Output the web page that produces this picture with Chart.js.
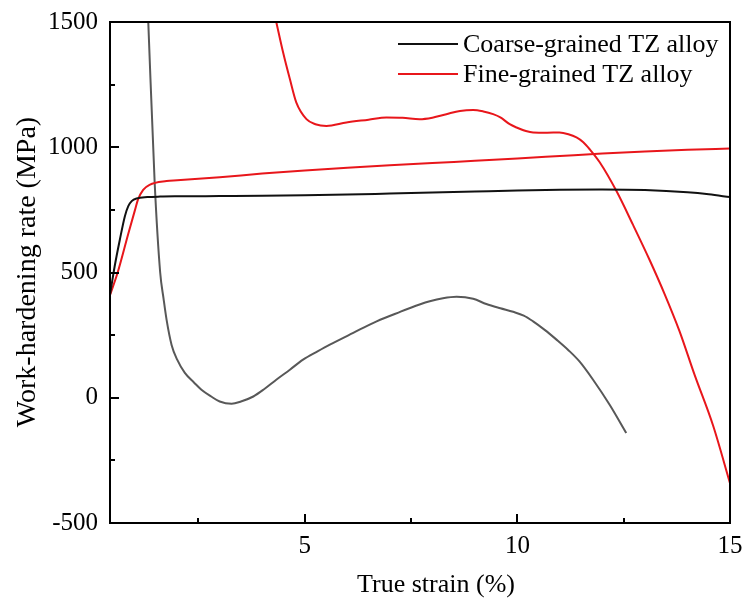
<!DOCTYPE html>
<html>
<head>
<meta charset="utf-8">
<title>Work-hardening rate vs true strain</title>
<script src="https://cdn.jsdelivr.net/npm/chart.js@4/dist/chart.umd.min.js"></script>
<style>
  html, body { margin: 0; padding: 0; background: #fff; }
  canvas { display: block; }
</style>
</head>
<body>
<canvas id="chart" width="747" height="603"></canvas>
<script>
// Coarse-grained TZ alloy: flow curve (black)
const coarseFlowStrain = [0.41, 0.53, 0.65, 0.77, 0.85, 0.93, 1.05, 1.3, 1.6, 2, 3, 4, 5, 6, 7, 8, 9, 10, 11, 12, 13, 14, 14.5, 15];
const coarseFlowValue  = [400, 525, 630, 725, 765, 785, 796, 801, 803, 804, 805, 806, 808, 811, 815, 819, 823, 827, 830, 831, 829, 820, 812, 801];

// Fine-grained TZ alloy: flow curve (red)
const fineFlowStrain = [0.41, 0.6, 0.85, 1.0, 1.08, 1.2, 1.35, 1.75, 2, 3, 4, 5, 6, 7, 8, 9, 10, 11, 12, 13, 14, 15];
const fineFlowValue  = [405, 500, 655, 745, 792, 830, 850, 865, 868, 880, 895, 907, 918, 928, 937, 946, 955, 965, 975, 983, 990, 995];

// Coarse-grained TZ alloy: work-hardening rate (grey)
const coarseRateStrain = [1.32, 1.47, 1.6, 1.68, 1.75, 1.87, 2.0, 2.18, 2.4, 2.57, 2.8, 3.0, 3.28, 3.5, 3.79, 4.05, 4.33, 4.65, 4.96, 5.3, 5.59, 6.14, 6.69, 7.23, 7.7, 7.94, 8.25, 8.57, 8.96, 9.27, 9.6, 9.9, 10.15, 10.37, 10.65, 10.92, 11.2, 11.46, 11.78, 12.17, 12.56];
const coarseRateValue  = [1500, 860, 500, 395, 312, 210, 152, 99, 60, 32, 5, -15, -24, -15, 5, 35, 72, 112, 152, 185, 212, 259, 305, 342, 372, 385, 397, 403, 395, 374, 357, 343, 328, 305, 270, 232, 190, 145, 72, -28, -141];

// Fine-grained TZ alloy: work-hardening rate (red)
const fineRateStrain = [4.33, 4.49, 4.65, 4.8, 5.04, 5.25, 5.51, 5.98, 6.5, 6.92, 7.3, 7.7, 8.0, 8.33, 8.65, 8.96, 9.2, 9.43, 9.6, 9.82, 9.98, 10.2, 10.37, 10.7, 10.99, 11.2, 11.39, 11.55, 11.7, 11.94, 12.33, 12.72, 13.11, 13.46, 13.81, 14.17, 14.6, 15.0];
const fineRateValue  = [1500, 1379, 1272, 1179, 1112, 1092, 1085, 1099, 1110, 1119, 1118, 1112, 1118, 1132, 1145, 1149, 1143, 1132, 1119, 1092, 1079, 1065, 1059, 1058, 1059, 1052, 1039, 1020, 992, 939, 825, 690, 550, 415, 267, 90, -110, -341];

// Axis ticks
const xMajorTicks = [5, 10, 15];
const xMinorTicks = [2.5, 7.5, 12.5];
const yMajorTicks = [-500, 0, 500, 1000, 1500];
const yMinorTicks = [-250, 250, 750, 1250];

const legendLabels = ['Coarse-grained TZ alloy', 'Fine-grained TZ alloy'];
const xTitle = 'True strain (%)';
const yTitle = 'Work-hardening rate (MPa)';

const SERIF = '"Liberation Serif", "Times New Roman", serif';
const BLACK = '#111111';
const RED = '#e8161b';
const GREY = '#585858';

const pts = (xs, ys) => xs.map((x, i) => ({ x, y: ys[i] }));

const lineStyle = {
  borderWidth: 2,
  pointRadius: 0,
  fill: false,
  cubicInterpolationMode: 'monotone'
};

// Frame, inward ticks, axis titles and legend
const decorations = {
  id: 'decorations',
  afterDraw(chart) {
    const { ctx, chartArea: a, scales: { x, y } } = chart;
    ctx.save();
    ctx.strokeStyle = '#000';
    ctx.lineWidth = 2;
    ctx.strokeRect(a.left, a.top, a.right - a.left, a.bottom - a.top);

    ctx.beginPath();
    yMajorTicks.forEach(v => { const p = Math.round(y.getPixelForValue(v)); ctx.moveTo(a.left, p); ctx.lineTo(a.left + 9, p); });
    yMinorTicks.forEach(v => { const p = Math.round(y.getPixelForValue(v)); ctx.moveTo(a.left, p); ctx.lineTo(a.left + 5, p); });
    xMajorTicks.forEach(v => { const p = Math.round(x.getPixelForValue(v)); ctx.moveTo(p, a.bottom); ctx.lineTo(p, a.bottom - 9); });
    xMinorTicks.forEach(v => { const p = Math.round(x.getPixelForValue(v)); ctx.moveTo(p, a.bottom); ctx.lineTo(p, a.bottom - 5); });
    ctx.stroke();

    ctx.fillStyle = '#000';
    ctx.textBaseline = 'middle';
    ctx.textAlign = 'center';
    ctx.font = '26px ' + SERIF;
    ctx.fillText(xTitle, 436, 585);

    ctx.save();
    ctx.translate(28, 272);
    ctx.rotate(-Math.PI / 2);
    ctx.font = '28px ' + SERIF;
    ctx.fillText(yTitle, 0, 0);
    ctx.restore();

    // legend
    const colors = [BLACK, RED];
    ctx.font = '26px ' + SERIF;
    ctx.textAlign = 'left';
    legendLabels.forEach((label, i) => {
      const ly = 44 + i * 30;
      ctx.strokeStyle = colors[i];
      ctx.lineWidth = 2;
      ctx.beginPath();
      ctx.moveTo(398, ly);
      ctx.lineTo(458, ly);
      ctx.stroke();
      ctx.fillText(label, 463, ly + 1);
    });
    ctx.restore();
  }
};

// Let the layout padding alone decide where the plot frame sits
function dropLabelOverflow(scale) {
  scale.paddingTop = 0;
  scale.paddingBottom = 0;
  scale.paddingLeft = 0;
  scale.paddingRight = 0;
}

new Chart(document.getElementById('chart'), {
  type: 'line',
  data: {
    datasets: [
      { label: legendLabels[0], data: pts(coarseFlowStrain, coarseFlowValue), borderColor: BLACK, ...lineStyle },
      { label: legendLabels[1], data: pts(fineFlowStrain, fineFlowValue), borderColor: RED, ...lineStyle },
      { label: 'coarse rate', data: pts(coarseRateStrain, coarseRateValue), borderColor: GREY, ...lineStyle },
      { label: 'fine rate', data: pts(fineRateStrain, fineRateValue), borderColor: RED, ...lineStyle }
    ]
  },
  options: {
    responsive: false,
    animation: false,
    devicePixelRatio: 1,
    layout: { padding: { top: 22, right: 17, left: 0, bottom: 0 } },
    plugins: { legend: { display: false }, tooltip: { enabled: false } },
    scales: {
      x: {
        type: 'linear',
        min: 0.42,
        max: 15,
        grid: { display: false, drawTicks: false },
        border: { display: false },
        afterBuildTicks(scale) { scale.ticks = xMajorTicks.map(v => ({ value: v })); },
        afterFit(scale) { scale.height = 80; dropLabelOverflow(scale); },
        ticks: { font: { family: SERIF, size: 25 }, color: '#000', padding: 8, maxRotation: 0, callback: v => String(v) }
      },
      y: {
        min: -500,
        max: 1500,
        grid: { display: false, drawTicks: false },
        border: { display: false },
        afterBuildTicks(scale) { scale.ticks = yMajorTicks.map(v => ({ value: v })); },
        afterFit(scale) { scale.width = 110; dropLabelOverflow(scale); },
        ticks: { font: { family: SERIF, size: 25 }, color: '#000', padding: 12, callback: v => String(v) }
      }
    }
  },
  plugins: [decorations]
});
</script>
</body>
</html>
